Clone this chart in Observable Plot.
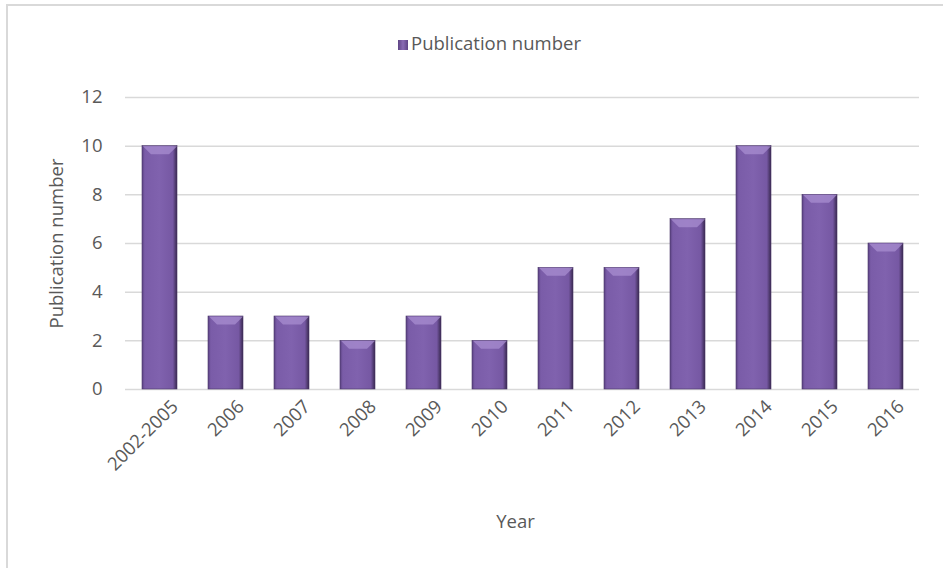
<!DOCTYPE html>
<html>
<head>
<meta charset="utf-8">
<script src="https://cdn.jsdelivr.net/npm/d3@7"></script>
<script src="https://cdn.jsdelivr.net/npm/@observablehq/plot@0.6"></script>
<style>
  body { margin: 0; background: #fff; width: 943px; height: 568px; overflow: hidden; position: relative; font-family: "Open Sans", sans-serif; }
  #frame { position: absolute; left: 6px; top: 4px; width: 1000px; height: 700px; border: 2px solid #d9d9d9; box-sizing: border-box; }
  #legend { position: absolute; left: 18px; width: 943px; top: 30px; text-align: center; font-size: 18.5px; color: #595959; }
  #legend .sw { display: inline-block; width: 10px; height: 10px; background: linear-gradient(90deg,#5e4485,#8a6cb4 50%,#5e4485); margin-right: 3px; vertical-align: 0px; }
  #chart { position: absolute; left: 0; top: 70px; }
</style>
</head>
<body>
<div id="frame"></div>
<div id="legend"><span class="sw"></span>Publication number</div>
<div id="chart"></div>
<script>
const years = ["2002-2005","2006","2007","2008","2009","2010","2011","2012","2013","2014","2015","2016"];
const counts = [10,3,3,2,3,2,5,5,7,10,8,6];
const yTicks = [0,2,4,6,8,10,12];

const data = years.map((y, i) => ({year: y, value: counts[i]}));

// bevel shape at the top of each bar (style only)
const bevel = {
  draw(context) {
    context.moveTo(-17, 0);
    context.lineTo(17, 0);
    context.lineTo(9, 8);
    context.lineTo(-9, 8);
    context.closePath();
  }
};

const plot = Plot.plot({
  width: 943,
  height: 498,
  marginTop: 27,
  marginBottom: 179,
  marginLeft: 125,
  marginRight: 24,
  style: {fontFamily: "'Open Sans', sans-serif", fontSize: "18.5px", color: "#595959", background: "transparent"},
  x: {domain: years, paddingInner: 0.47, paddingOuter: 0.235, label: null},
  y: {domain: [0, 12], ticks: yTicks, label: null},
  marks: [
    Plot.gridY(yTicks, {stroke: "#d9d9d9", strokeOpacity: 1, strokeWidth: 1.5}),
    Plot.axisY(yTicks, {tickSize: 0, tickPadding: 23, fontSize: 18.5, fill: "#595959", label: null}),
    Plot.axisX({tickSize: 0, tickRotate: -45, tickPadding: 14, dx: 15, fontSize: 18.5, fill: "#595959", label: null}),
    Plot.barY(data, {x: "year", y: "value", fill: "url(#barGrad)", stroke: "#4a3668", strokeWidth: 0.6}),
    Plot.dot(data, {x: "year", y: "value", symbol: bevel, fill: "#a88dd0", fillOpacity: 0.75, stroke: "none", r: 1}),
    Plot.text(["Year"], {frameAnchor: "bottom", dy: 138, dx: -7, fontSize: 18.5, fill: "#595959"}),
    Plot.text(["Publication number"], {frameAnchor: "left", textAnchor: "middle", dx: -68, rotate: -90, fontSize: 18.5, fill: "#595959"})
  ]
});

const defs = d3.select(plot).insert("defs", ":first-child");
const g = defs.append("linearGradient").attr("id", "barGrad").attr("x1", "0").attr("x2", "1").attr("y1", "0").attr("y2", "0");
[["0%", "#5a4282"], ["8%", "#7a5ca8"], ["50%", "#8062ae"], ["88%", "#7658a3"], ["100%", "#38284f"]]
  .forEach(([o, c]) => g.append("stop").attr("offset", o).attr("stop-color", c));

document.getElementById("chart").appendChild(plot);
</script>
</body>
</html>
